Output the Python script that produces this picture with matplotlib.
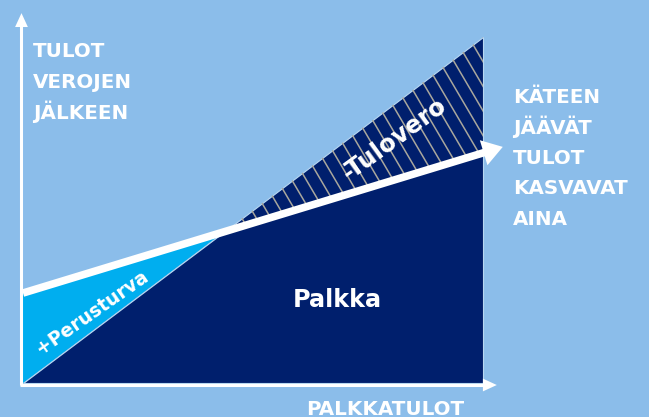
import numpy as np
import matplotlib
matplotlib.use('agg')
import matplotlib.pyplot as plt
from matplotlib.patches import Polygon

# colours
bg = '#8BBDEA'
navy = '#001F6D'
cyan = '#00AEEF'
hatchCol = '#A9A79D'

# data (salary on x, income on y, both in % of max)
palkka = [0, 100]          # gross salary
brutto = [0, 100]          # income without taxes / benefits
netto = [26, 66.5]         # income after taxes and benefits
nettoTip = 104.3           # where the arrow of net income ends

yLabel = ['TULOT', 'VEROJEN', 'JÄLKEEN']
rightLabel = ['KÄTEEN', 'JÄÄVÄT', 'TULOT', 'KASVAVAT', 'AINA']
xLabel = 'PALKKATULOT'

font = 'DejaVu Sans'
W, H = 649, 417


def fx(x):
    return x / W


def fy(y):
    return 1 - y / H


fig = plt.figure(figsize=(W / 100, H / 100), dpi=100)
fig.patch.set_facecolor(bg)
ax = fig.add_axes([0, 0, 1, 1])
ax.set_facecolor(bg)
ax.set_xlim(-23 / 4.6, (W - 23) / 4.6)
ax.set_ylim((383 - H) / 3.46, 383 / 3.46)
ax.axis('off')

slope = (netto[1] - netto[0]) / (palkka[1] - palkka[0])
xi = netto[0] / (1 - slope)   # break even point

# +Perusturva
ax.add_patch(Polygon([(0, 0), (0, netto[0]), (xi, xi)], closed=True,
                     facecolor=cyan, edgecolor='none', zorder=2))
# salary triangle
ax.add_patch(Polygon([(palkka[0], brutto[0]), (palkka[1], 0), (palkka[1], brutto[1])],
                     closed=True, facecolor=navy, edgecolor='#B8D8F2', lw=0.8, zorder=3))
# -Tulovero hatching
tax = Polygon([(xi, xi), (palkka[1], brutto[1]), (palkka[1], netto[1])], closed=True,
              facecolor='none', edgecolor='none', zorder=4)
ax.add_patch(tax)
hs = -2.26
for x0 in np.arange(100 - 3.15 * 30, 130, 3.15):
    yy = np.array([120, 30])
    xx = x0 + (yy - 92.9) / hs
    ln, = ax.plot(xx, yy, color=hatchCol, lw=1.1, zorder=4)
    ln.set_clip_path(tax)

# net income arrow
tipY = netto[0] + slope * nettoTip
ax.plot([0, nettoTip - 3.5], [netto[0], netto[0] + slope * (nettoTip - 3.5)],
        color='white', lw=5.5, solid_capstyle='butt', zorder=6)
ax.annotate('', xy=(nettoTip, tipY), xytext=(nettoTip - 6, netto[0] + slope * (nettoTip - 6)),
            arrowprops=dict(arrowstyle='-|>,head_length=14.4,head_width=9.4', mutation_scale=1,
                            color='white', lw=0, shrinkA=0, shrinkB=0), zorder=6)

# axes
ax0x, ax0y = -0.33, -0.58
ax.plot([ax0x, ax0x], [ax0y, 104], color='white', lw=2.2, solid_capstyle='butt', zorder=7)
ax.annotate('', xy=(ax0x, 106.9), xytext=(ax0x, 100),
            arrowprops=dict(arrowstyle='-|>,head_length=10,head_width=4.6', mutation_scale=1,
                            color='white', lw=0, shrinkA=0, shrinkB=0), zorder=7)
ax.plot([ax0x - 0.3, 100.5], [ax0y, ax0y], color='white', lw=2.2, solid_capstyle='butt', zorder=7)
ax.annotate('', xy=(103.0, ax0y), xytext=(98, ax0y),
            arrowprops=dict(arrowstyle='-|>,head_length=10,head_width=4.6', mutation_scale=1,
                            color='white', lw=0, shrinkA=0, shrinkB=0), zorder=7)

# texts
for i, t in enumerate(yLabel):
    fig.text(fx(33), fy(57 + 31 * i), t, color='white', fontsize=14.3, fontweight='bold',
             family=font, ha='left', va='baseline')
for i, t in enumerate(rightLabel):
    fig.text(fx(513), fy(103 + 30.5 * i), t, color='white', fontsize=14.3, fontweight='bold',
             family=font, ha='left', va='baseline')
fig.text(fx(385), fy(415), xLabel, color='white', fontsize=14.3, fontweight='bold',
         family=font, ha='center', va='baseline')

fig.text(fx(337), fy(307), 'Palkka', color='white', fontsize=17.2, fontweight='bold',
         family=font, ha='center', va='baseline', zorder=8)
fig.text(fx(394), fy(139), '-Tulovero', color='white', fontsize=17.5, fontweight='bold',
         family=font, ha='center', va='center', rotation=36, rotation_mode='anchor', zorder=8)
fig.text(fx(92), fy(312), '+Perusturva', color='white', fontsize=13.5, fontweight='bold',
         family=font, ha='center', va='center', rotation=35, rotation_mode='anchor', zorder=8)

fig.savefig('out.png', dpi=100, facecolor=bg)
